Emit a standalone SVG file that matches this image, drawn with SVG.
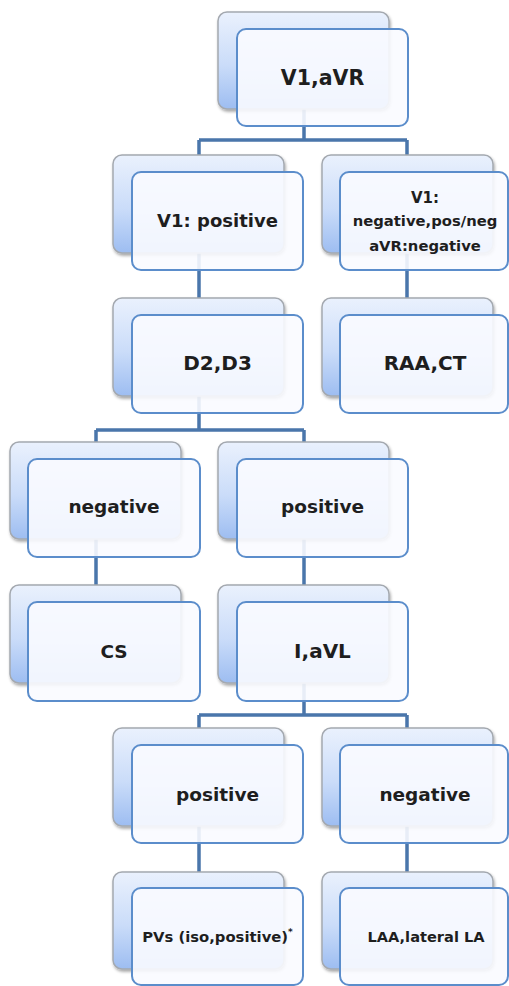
<svg xmlns="http://www.w3.org/2000/svg" width="509" height="986" viewBox="0 0 509 986">
<defs>
<linearGradient id="bg" x1="0" y1="0" x2="0" y2="1">
<stop offset="0" stop-color="#eaf1fd"/>
<stop offset="0.55" stop-color="#cadcf9"/>
<stop offset="1" stop-color="#9dbdf1"/>
</linearGradient>
<filter id="sh" x="-10%" y="-10%" width="125%" height="130%">
<feDropShadow dx="1" dy="2" stdDeviation="1.5" flood-color="#000" flood-opacity="0.35"/>
</filter>
</defs>
<style>
.back{fill:url(#bg);stroke:#a4a9b0;stroke-width:1.5;filter:url(#sh)}
.front{fill:#f9fbff;fill-opacity:0.9;stroke:#5b8dcb;stroke-width:2}
.conn{fill:none;stroke:#4a76ab;stroke-width:3.5}
text{font-family:"DejaVu Sans","Liberation Sans",sans-serif;font-weight:bold;fill:#1e1e1e;text-anchor:middle}
</style>
<rect width="509" height="986" fill="#ffffff"/>
<g id="connectors">
<path class="conn" d="M304,108 V140 M199,140 H407 M199,140 V155 M407,140 V155"/>
<path class="conn" d="M199,253 V298 M407,253 V298"/>
<path class="conn" d="M199,396 V430 M96,430 H304 M96,430 V442 M304,430 V442"/>
<path class="conn" d="M96,539 V585 M304,539 V585"/>
<path class="conn" d="M304,683 V715 M199,715 H407 M199,715 V728 M407,715 V728"/>
<path class="conn" d="M199,826 V872 M407,826 V872"/>
</g>
<g id="n-v1avr">
<rect class="back" x="218" y="12" width="171" height="97" rx="9"/>
<rect class="front" x="237" y="29" width="171" height="97" rx="9"/>
<text x="322.5" y="85" font-size="20.5">V1,aVR</text>
</g>
<g id="n-v1pos">
<rect class="back" x="113" y="155" width="171" height="98" rx="9"/>
<rect class="front" x="132" y="172" width="171" height="98" rx="9"/>
<text x="217.5" y="227" font-size="18">V1: positive</text>
</g>
<g id="n-v1neg">
<rect class="back" x="322" y="155" width="171" height="98" rx="9"/>
<rect class="front" x="340" y="172" width="168" height="98" rx="9"/>
<text x="425" y="203" font-size="15">V1:</text>
<text x="425" y="226" font-size="14.8">negative,pos/neg</text>
<text x="425" y="251" font-size="14.8">aVR:negative</text>
</g>
<g id="n-d2d3">
<rect class="back" x="113" y="298" width="171" height="98" rx="9"/>
<rect class="front" x="132" y="315" width="171" height="98" rx="9"/>
<text x="217.5" y="370" font-size="20">D2,D3</text>
</g>
<g id="n-raact">
<rect class="back" x="322" y="298" width="171" height="98" rx="9"/>
<rect class="front" x="340" y="315" width="168" height="98" rx="9"/>
<text x="425" y="370" font-size="20">RAA,CT</text>
</g>
<g id="n-neg1">
<rect class="back" x="10" y="442" width="171" height="97" rx="9"/>
<rect class="front" x="28" y="459" width="172" height="98" rx="9"/>
<text x="114" y="513" font-size="18.5">negative</text>
</g>
<g id="n-pos1">
<rect class="back" x="218" y="442" width="171" height="97" rx="9"/>
<rect class="front" x="237" y="459" width="171" height="98" rx="9"/>
<text x="322.5" y="513" font-size="18.5">positive</text>
</g>
<g id="n-cs">
<rect class="back" x="10" y="585" width="171" height="98" rx="9"/>
<rect class="front" x="28" y="602" width="172" height="99" rx="9"/>
<text x="114" y="658" font-size="18.5">CS</text>
</g>
<g id="n-iavl">
<rect class="back" x="218" y="585" width="171" height="98" rx="9"/>
<rect class="front" x="237" y="602" width="171" height="99" rx="9"/>
<text x="322.5" y="658" font-size="20">I,aVL</text>
</g>
<g id="n-pos2">
<rect class="back" x="113" y="728" width="171" height="98" rx="9"/>
<rect class="front" x="132" y="745" width="171" height="98" rx="9"/>
<text x="217.5" y="801" font-size="18.5">positive</text>
</g>
<g id="n-neg2">
<rect class="back" x="322" y="728" width="171" height="98" rx="9"/>
<rect class="front" x="340" y="745" width="168" height="98" rx="9"/>
<text x="425" y="801" font-size="18.5">negative</text>
</g>
<g id="n-pvs">
<rect class="back" x="113" y="872" width="171" height="97" rx="9"/>
<rect class="front" x="132" y="888" width="171" height="97" rx="9"/>
<text x="217.5" y="942" font-size="14.8">PVs (iso,positive)<tspan font-size="9" dy="-7">*</tspan></text>
</g>
<g id="n-laa">
<rect class="back" x="322" y="872" width="171" height="97" rx="9"/>
<rect class="front" x="340" y="888" width="168" height="97" rx="9"/>
<text x="426" y="942" font-size="14.6">LAA,lateral LA</text>
</g>
</svg>
